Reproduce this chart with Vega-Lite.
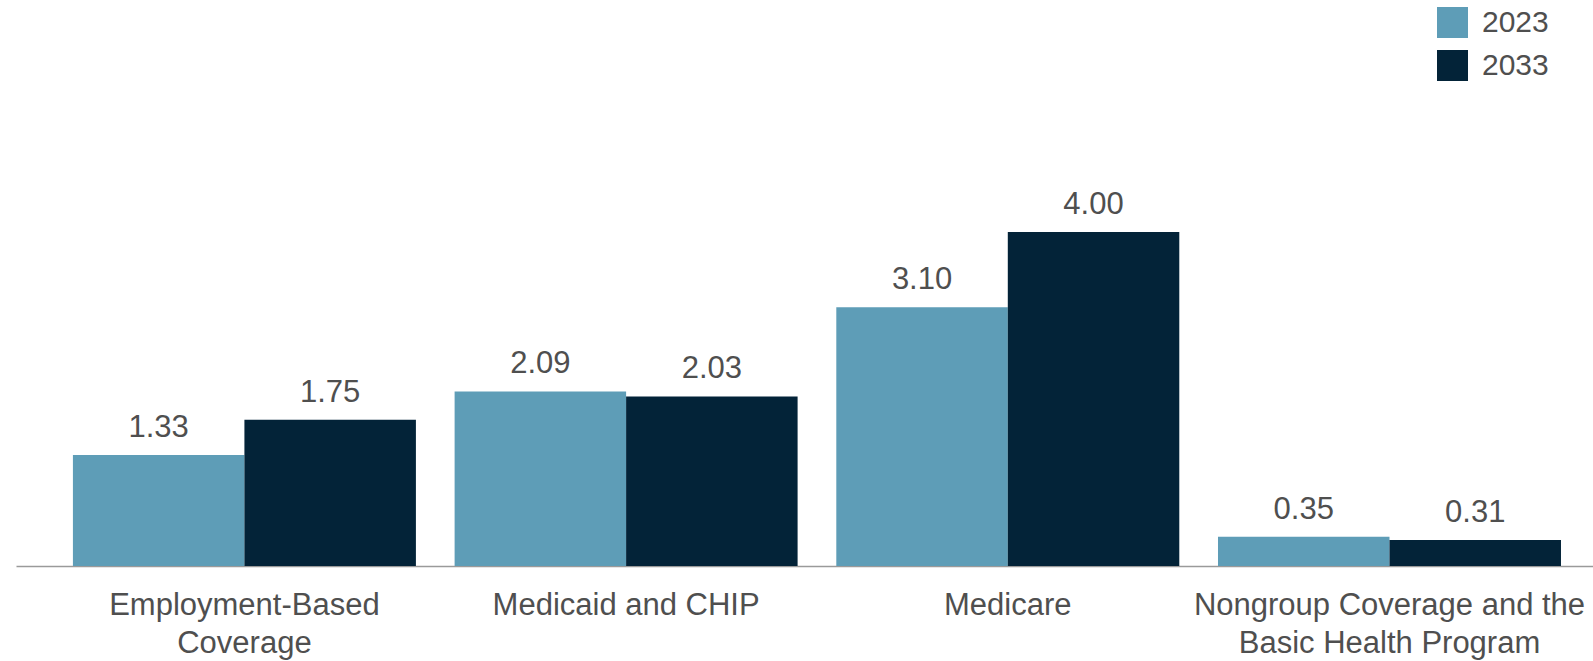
{
  "$schema": "https://vega.github.io/schema/vega-lite/v6.json",
  "width": 1577,
  "height": 566,
  "autosize": "none",
  "padding": {"left": 16, "top": 0, "right": 0, "bottom": 95},
  "background": "white",
  "config": {
    "view": {"stroke": null},
    "font": "Liberation Sans"
  },
  "data": {
    "values": [
      {"category": "Employment-Based Coverage", "year": "2023", "value": 1.33},
      {"category": "Employment-Based Coverage", "year": "2033", "value": 1.75},
      {"category": "Medicaid and CHIP", "year": "2023", "value": 2.09},
      {"category": "Medicaid and CHIP", "year": "2033", "value": 2.03},
      {"category": "Medicare", "year": "2023", "value": 3.10},
      {"category": "Medicare", "year": "2033", "value": 4.00},
      {"category": "Nongroup Coverage and the Basic Health Program", "year": "2023", "value": 0.35},
      {"category": "Nongroup Coverage and the Basic Health Program", "year": "2033", "value": 0.31}
    ]
  },
  "encoding": {
    "x": {
      "field": "category",
      "type": "nominal",
      "sort": null,
      "scale": {"paddingInner": 0.1014, "paddingOuter": 0.1165, "align": 0.64},
      "axis": {
        "title": null,
        "labelAngle": 0,
        "labelFontSize": 31,
        "labelColor": "#4f4f4f",
        "labelFont": "Liberation Sans",
        "labelPadding": 24,
        "labelLineHeight": 38,
        "labelLimit": 0,
        "ticks": false,
        "domainColor": "#9a9a9a",
        "domainWidth": 1.5,
        "grid": false,
        "labelExpr": "datum.value == 'Employment-Based Coverage' ? ['Employment-Based', 'Coverage'] : datum.value == 'Nongroup Coverage and the Basic Health Program' ? ['Nongroup Coverage and the', 'Basic Health Program'] : datum.value"
      }
    },
    "xOffset": {"field": "year", "type": "nominal", "scale": {"paddingInner": 0, "paddingOuter": 0}},
    "y": {
      "field": "value",
      "type": "quantitative",
      "scale": {"domain": [0, 6.778], "nice": false, "zero": true},
      "axis": null
    }
  },
  "layer": [
    {
      "mark": {"type": "bar"},
      "encoding": {
        "color": {
          "field": "year",
          "type": "nominal",
          "scale": {"domain": ["2023", "2033"], "range": ["#5e9db7", "#032338"]},
          "legend": {
            "orient": "none",
            "legendX": 1421,
            "legendY": 7,
            "title": null,
            "padding": 0,
            "symbolType": "square",
            "symbolSize": 961,
            "symbolStrokeWidth": 0,
            "labelFontSize": 30,
            "labelColor": "#4f4f4f",
            "labelFont": "Liberation Sans",
            "labelOffset": 14,
            "rowPadding": 12
          }
        }
      }
    },
    {
      "mark": {"type": "text", "baseline": "alphabetic", "dy": -18, "fontSize": 31, "color": "#4f4f4f", "font": "Liberation Sans"},
      "encoding": {
        "text": {"field": "value", "type": "quantitative", "format": ".2f"}
      }
    }
  ]
}
